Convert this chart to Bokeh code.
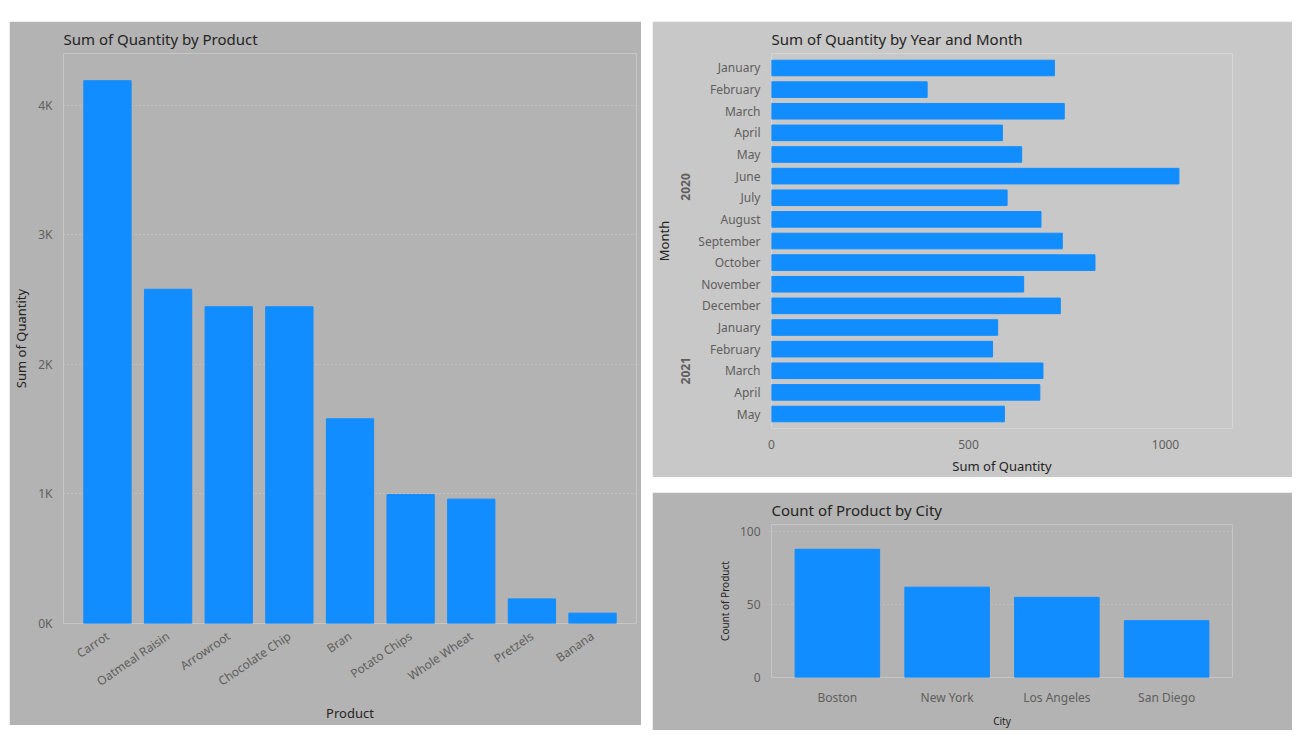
from bokeh.plotting import figure
from bokeh.layouts import row, column
from bokeh.models import Spacer, FactorRange, CustomJSTickFormatter, FixedTicker
from bokeh.embed import file_html
from bokeh.resources import INLINE

products = ["Carrot", "Oatmeal Raisin", "Arrowroot", "Chocolate Chip", "Bran",
            "Potato Chips", "Whole Wheat", "Pretzels", "Banana"]
product_qty = [4190, 2580, 2445, 2445, 1580, 995, 960, 190, 80]

years = ["2020"] * 12 + ["2021"] * 5
months = ["January", "February", "March", "April", "May", "June", "July", "August",
          "September", "October", "November", "December",
          "January", "February", "March", "April", "May"]
month_qty = [718, 395, 743, 586, 635, 1034, 598, 684, 738, 821, 640, 733,
             574, 561, 689, 681, 591]

cities = ["Boston", "New York", "Los Angeles", "San Diego"]
city_count = [88, 62, 55, 39]

BAR = "#118DFF"
FONT = "Noto Sans"


def style(p, bg):
    p.background_fill_color = bg
    p.border_fill_color = bg
    p.outline_line_color = None
    p.title.text_font = FONT
    p.title.text_font_size = "15px"
    p.title.text_font_style = "normal"
    p.title.text_color = "#252423"
    for ax in p.axis:
        ax.axis_line_color = None
        ax.major_tick_line_color = None
        ax.minor_tick_line_color = None
        ax.major_label_text_font = FONT
        ax.major_label_text_font_size = "12px"
        ax.major_label_text_color = "#605e5c"
        ax.axis_label_text_font = FONT
        ax.axis_label_text_font_size = "13px"
        ax.axis_label_text_font_style = "normal"
        ax.axis_label_text_color = "#252423"
    p.grid.grid_line_color = None


# left: quantity by product
p1 = figure(x_range=products, width=632, height=704, title="Sum of Quantity by Product",
            output_backend="svg", toolbar_location=None, y_range=(0, 4400))
p1.vbar(x=products, top=product_qty, width=0.78, color=BAR)
style(p1, "#b3b3b3")
p1.xaxis.axis_label = "Product"
p1.yaxis.axis_label = "Sum of Quantity"
p1.xaxis.major_label_orientation = 0.6
p1.yaxis.ticker = FixedTicker(ticks=[0, 1000, 2000, 3000, 4000])
p1.yaxis.formatter = CustomJSTickFormatter(code="return (tick/1000) + 'K';")
p1.ygrid.grid_line_color = "#cfcfcf"
p1.ygrid.grid_line_dash = "1 3"
p1.x_range.range_padding = 0.05
p1.min_border_bottom = 20

# top right: quantity by year and month
factors = list(zip(years, months))
p2 = figure(y_range=FactorRange(*reversed(factors), group_padding=0, range_padding=0.02),
            width=640, height=456, title="Sum of Quantity by Year and Month",
            output_backend="svg", toolbar_location=None, x_range=(0, 1170))
p2.hbar(y=factors, right=month_qty, height=0.72, color=BAR)
style(p2, "#c8c8c8")
p2.xaxis.axis_label = "Sum of Quantity"
p2.yaxis.axis_label = "Month"
p2.xaxis.ticker = FixedTicker(ticks=[0, 500, 1000])
p2.yaxis.group_text_font_size = "12px"
p2.yaxis.group_text_color = "#605e5c"
p2.yaxis.group_text_font = FONT
p2.yaxis.separator_line_color = None
p2.min_border_right = 60

# bottom right: count of product by city
p3 = figure(x_range=cities, width=640, height=238, title="Count of Product by City",
            output_backend="svg", toolbar_location=None, y_range=(0, 105))
p3.vbar(x=cities, top=city_count, width=0.77, color=BAR)
style(p3, "#b3b3b3")
p3.xaxis.axis_label = "City"
p3.yaxis.axis_label = "Count of Product"
p3.xaxis.axis_label_text_font_size = "10px"
p3.yaxis.axis_label_text_font_size = "10px"
p3.yaxis.ticker = FixedTicker(ticks=[0, 50, 100])
p3.ygrid.grid_line_color = "#cfcfcf"
p3.ygrid.grid_line_dash = "1 3"
p3.x_range.range_padding = 0.05

layout = row(
    Spacer(width=9),
    column(Spacer(height=21), p1),
    Spacer(width=11),
    column(Spacer(height=21), p2, Spacer(height=15), p3),
)

open("out.html", "w").write(file_html(layout, INLINE))
